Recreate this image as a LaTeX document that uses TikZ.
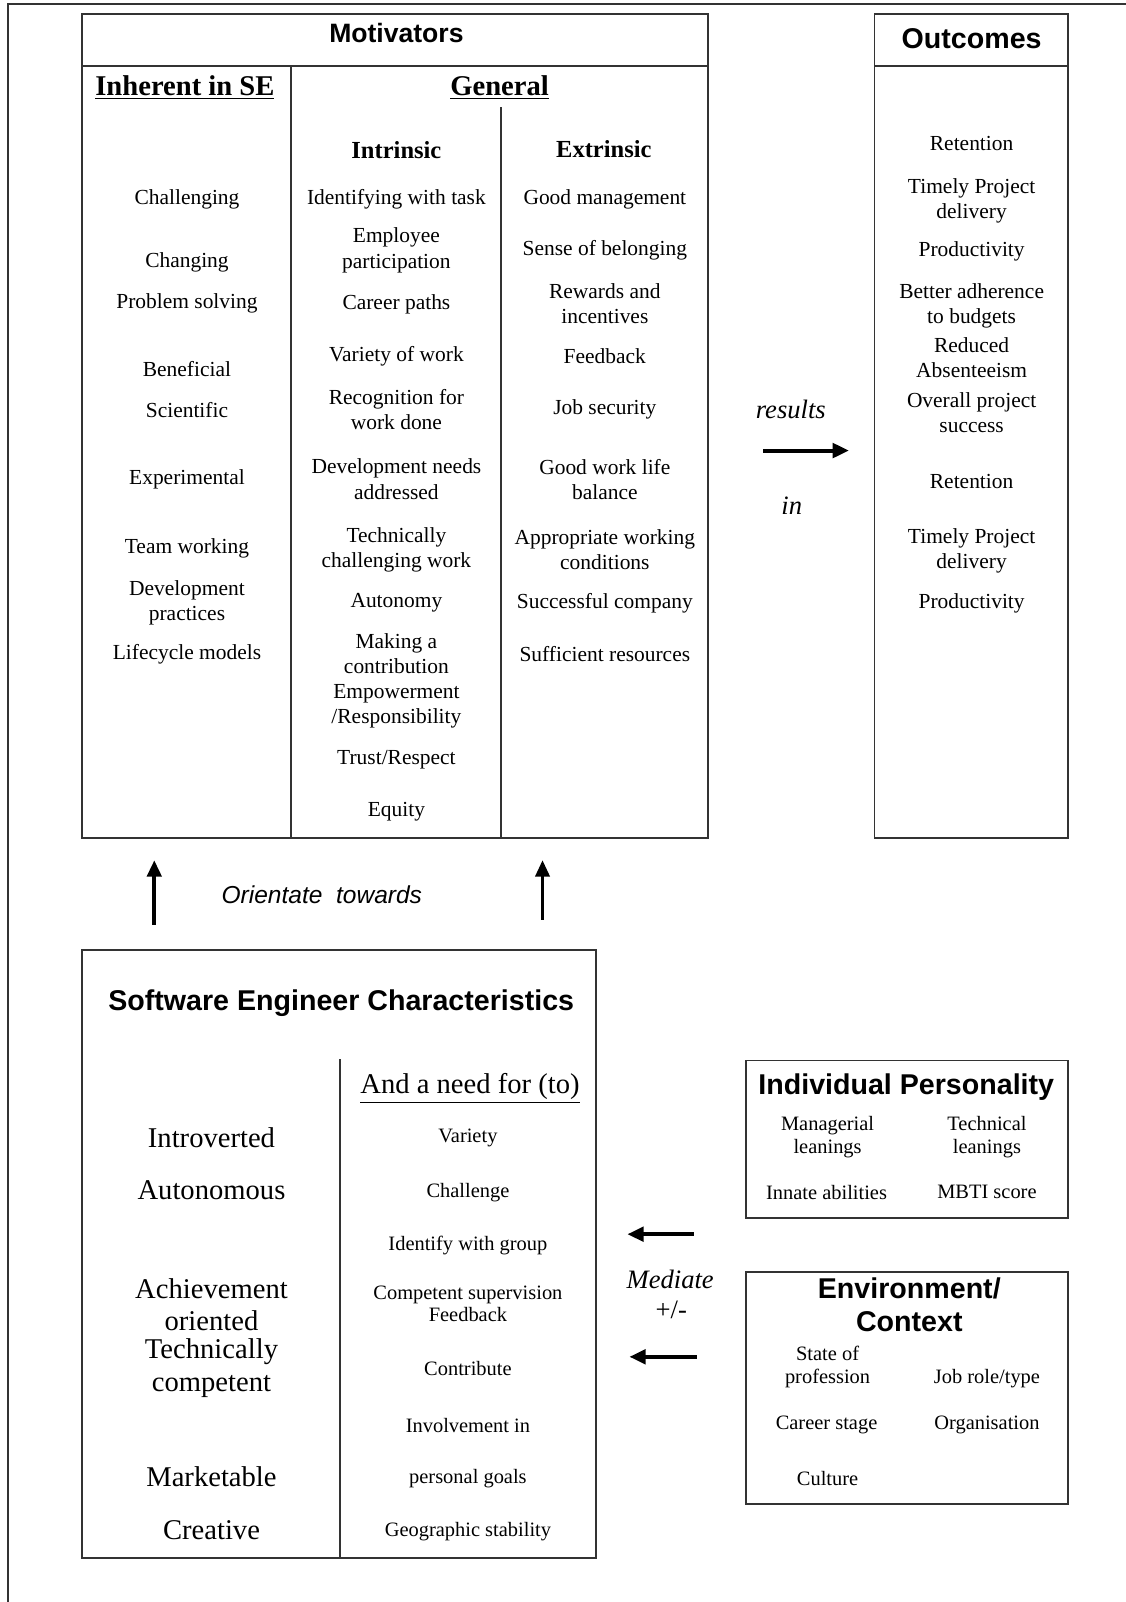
\documentclass[tikz,border=0pt]{standalone}
\usepackage{fontspec}
\setmainfont{Liberation Serif}
\setsansfont{Liberation Sans}
\usetikzlibrary{arrows.meta}

\begin{document}
\begin{tikzpicture}[x=0.5pt,y=-0.5pt,
    frame/.style={draw=black!80, line width=0.9pt},
    itm/.style={align=center, inner sep=0pt, yshift=-1pt, font=\fontsize{10.5}{12.3}\selectfont},
    smallitm/.style={align=center, inner sep=0pt, yshift=-1pt, font=\fontsize{10}{11}\selectfont},
    bigitm/.style={align=center, inner sep=0pt, yshift=-0.5pt, font=\fontsize{14}{16}\selectfont},
    ttl/.style={align=center, inner sep=0pt, font=\sffamily\bfseries\fontsize{14}{16}\selectfont},
    colhead/.style={inner sep=0pt, font=\bfseries\fontsize{14}{16}\selectfont},
    subhead/.style={inner sep=0pt, font=\bfseries\fontsize{12}{14}\selectfont},
    lbl/.style={inner sep=0pt, font=\itshape\fontsize{13}{15}\selectfont},
    fatarrow/.style={-{Triangle[length=8pt,width=7pt]}, line width=2pt}]
  \useasboundingbox (0,0) rectangle (1102,1568);

  % Outer frame
  \draw[frame] (1102,4) -- (8,4) -- (8,1568);

  % Motivators
  \draw[frame] (80,14) rectangle (693,820);
  \draw[frame] (80,65) -- (693,65);
  \draw[frame] (285,65) -- (285,820);
  \draw[frame] (490,105) -- (490,820);
  \node[ttl, font=\sffamily\bfseries\fontsize{13}{15}\selectfont] (motiv) at (388,32) {Motivators};
  \node[colhead] (inherent) at (181,86) {\underline{Inherent in SE}};
  \node[colhead] (general) at (489,86) {\underline{General}};
  \node[subhead] (intrinsic) at (388,147) {Intrinsic};
  \node[subhead] (extrinsic) at (591,146) {Extrinsic};

  \foreach \t/\y [count=\i] in {Challenging/193, Changing/255, Problem solving/295,
      Beneficial/359, Scientific/399, Experimental/467, Team working/535,
      {Development\\practices}/588, Lifecycle models/638}
    \node[itm] (inh\i) at (183,\y) {\t};

  \foreach \t/\y [count=\i] in {Identifying with task/193, {Employee\\participation}/243,
      Career paths/296, Variety of work/347, {Recognition for\\work done}/399,
      {Development needs\\addressed}/467, {Technically\\challenging work}/536,
      Autonomy/588, {Making a\\contribution}/638, {Empowerment\\/Responsibility}/689,
      {Trust/Respect}/742, Equity/792}
    \node[itm] (intr\i) at (388,\y) {\t};

  \foreach \t/\y [count=\i] in {Good management/193, Sense of belonging/243,
      {Rewards and\\incentives}/295, Feedback/347, Job security/399,
      {Good work life\\balance}/467, {Appropriate working\\conditions}/536,
      Successful company/588, Sufficient resources/638}
    \node[itm] (extr\i) at (592,\y) {\t};

  % Outcomes
  \draw[frame] (856,14) rectangle (1045,820);
  \draw[frame] (856,65) -- (1045,65);
  \node[ttl] (outc) at (951,38) {Outcomes};
  \foreach \t/\y [count=\i] in {Retention/138, {Timely Project\\delivery}/195,
      Productivity/244, {Better adherence\\to budgets}/297, {Reduced\\Absenteeism}/348,
      {Overall project\\success}/402, Retention/469, {Timely Project\\delivery}/537,
      Productivity/589}
    \node[itm] (outc\i) at (951,\y) {\t};

  % results in
  \coordinate (resL) at (747,441);
  \coordinate (resR) at (831,441);
  \draw[fatarrow] (resL) -- (resR);
  \node[lbl] (results) at (774,401) {results};
  \node[lbl] (in) at (775,495) {in};

  % Orientate towards
  \coordinate (upA0) at (151,905);
  \coordinate (upA1) at (151,842);
  \coordinate (upB0) at (531,900);
  \coordinate (upB1) at (531,842);
  \draw[fatarrow, line width=1.8pt] (upA0) -- (upA1);
  \draw[fatarrow, line width=1.4pt] (upB0) -- (upB1);
  \node[inner sep=0pt, font=\sffamily\itshape\fontsize{12}{14}\selectfont] (orient) at (315,876) {Orientate~ towards};

  % Software Engineer Characteristics
  \draw[frame] (80,930) rectangle (583,1525);
  \draw[frame] (333,1037) -- (333,1525);
  \node[ttl] (sechar) at (334,982) {Software Engineer Characteristics};
  \foreach \t/\y [count=\i] in {Introverted/1113, Autonomous/1164,
      {Achievement\\oriented}/1276, {Technically\\competent}/1338,
      Marketable/1444, Creative/1497}
    \node[bigitm] (sel\i) at (207,\y) {\t};
  \node[bigitm] (need) at (460,1064) {\underline{And a need for (to)}};
  \foreach \t/\y [count=\i] in {Variety/1112, Challenge/1165, Identify with group/1217,
      {Competent supervision\\Feedback}/1274, Contribute/1337, Involvement in/1393,
      personal goals/1445, Geographic stability/1497}
    \node[smallitm] (ser\i) at (458,\y) {\t};

  % Mediate
  \coordinate (medA0) at (679,1208);
  \coordinate (medA1) at (614,1208);
  \coordinate (medB0) at (682,1328);
  \coordinate (medB1) at (616,1328);
  \draw[fatarrow] (medA0) -- (medA1);
  \draw[fatarrow] (medB0) -- (medB1);
  \node[lbl] (mediate) at (656,1252) {Mediate};
  \node[lbl, font=\fontsize{13}{15}\selectfont] (plusminus) at (657,1282) {+/-};

  % Individual Personality
  \draw[frame] (730,1038) rectangle (1045,1192);
  \node[ttl] (indiv) at (887,1064) {Individual Personality};
  \node[smallitm] (manag) at (810,1111) {Managerial\\leanings};
  \node[smallitm] (techn) at (966,1111) {Technical\\leanings};
  \node[smallitm] (innate) at (809,1165) {Innate abilities};
  \node[smallitm] (mbti) at (966,1165) {MBTI score};

  % Environment / Context
  \draw[frame] (730,1245) rectangle (1045,1472);
  \node[ttl] (envir) at (890,1277) {Environment/\\Context};
  \node[smallitm] (state) at (810,1336) {State of\\profession};
  \node[smallitm] (jobrole) at (966,1347) {Job role/type};
  \node[smallitm] (career) at (809,1393) {Career stage};
  \node[smallitm] (organ) at (966,1393) {Organisation};
  \node[smallitm] (cult) at (810,1445) {Culture};
\end{tikzpicture}
\end{document}
